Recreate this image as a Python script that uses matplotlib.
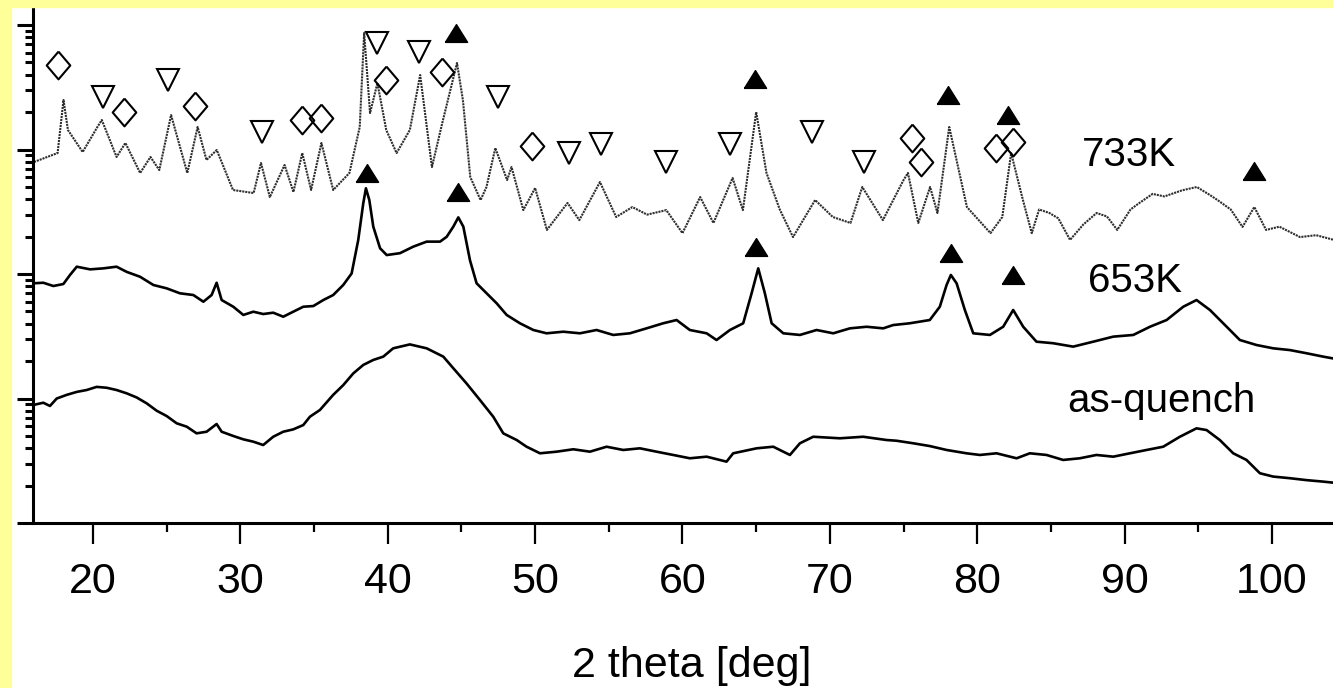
import matplotlib.pyplot as plt
from matplotlib.patches import Rectangle
from matplotlib.ticker import LogLocator, MultipleLocator, NullFormatter

# 2 theta [deg] and intensity (arb. units, log axis)
q_theta = [15.95, 16.63, 17.08, 17.54, 18.22, 18.9, 19.57, 20.25, 20.93, 21.6,
           22.29, 22.96, 23.64, 24.32, 25.0, 25.68, 26.36, 27.03, 27.71, 28.39,
           28.73, 29.52, 30.2, 30.88, 31.55, 32.23, 32.91, 33.59, 34.27, 34.72,
           35.4, 36.3, 36.98, 37.66, 38.34, 39.02, 39.7, 40.37, 41.5, 42.64,
           43.77, 44.45, 45.35, 46.26, 47.16, 47.84, 48.75, 49.42, 50.33, 51.46,
           52.59, 53.72, 54.85, 55.98, 57.11, 58.24, 59.37, 60.5, 61.64, 62.99,
           63.44, 65.03, 66.16, 67.29, 67.97, 68.87, 70.68, 72.26, 73.85, 74.52,
           75.65, 76.78, 77.92, 79.27, 80.18, 81.31, 82.67, 83.57, 84.7, 85.83,
           86.96, 88.09, 89.23, 90.36, 91.49, 92.62, 93.75, 94.88, 95.56, 96.46,
           97.37, 98.27, 99.18, 100.08, 101.21, 102.34, 103.47, 104.13]
q_int = [8.87, 9.25, 8.71, 10.0, 10.7, 11.3, 11.7, 12.4, 12.2, 11.7,
         11.0, 10.2, 9.15, 7.98, 7.23, 6.32, 5.94, 5.25, 5.41, 6.24,
         5.41, 5.0, 4.70, 4.50, 4.23, 4.93, 5.41, 5.65, 6.12, 7.14,
         8.09, 10.7, 12.8, 15.9, 18.6, 20.4, 21.7, 25.3, 27.2, 25.3,
         21.7, 17.5, 13.2, 9.72, 7.14, 5.25, 4.64, 4.10, 3.63, 3.74,
         3.91, 3.74, 4.10, 3.86, 3.98, 3.74, 3.52, 3.31, 3.41, 3.11,
         3.63, 3.98, 4.10, 3.52, 4.37, 4.93, 4.79, 4.93, 4.64, 4.58,
         4.37, 4.15, 3.86, 3.63, 3.52, 3.63, 3.31, 3.63, 3.52, 3.21,
         3.31, 3.52, 3.41, 3.63, 3.86, 4.10, 4.93, 5.76, 5.58, 4.64,
         3.63, 3.21, 2.51, 2.36, 2.29, 2.21, 2.15, 2.11]

k653_theta = [15.95, 16.63, 17.31, 17.99, 18.44, 18.9, 19.8, 20.7, 21.6, 22.29,
              23.19, 24.1, 25.0, 25.9, 26.81, 27.49, 28.05, 28.39, 28.73, 29.52,
              30.2, 30.88, 31.55, 32.23, 32.91, 33.59, 34.27, 34.95, 35.63, 36.3,
              36.98, 37.55, 38.0, 38.34, 38.52, 38.75, 39.02, 39.48, 39.93, 40.83,
              41.74, 42.64, 43.55, 44.0, 44.45, 44.79, 45.13, 45.58, 46.03, 46.71,
              47.39, 48.07, 48.97, 49.88, 50.78, 51.91, 53.04, 54.17, 55.3, 56.43,
              57.56, 58.69, 59.6, 60.5, 61.64, 62.31, 63.22, 64.12, 64.69, 65.14,
              65.59, 66.05, 66.84, 67.97, 69.1, 70.23, 71.36, 72.49, 73.62, 74.29,
              75.42, 76.78, 77.46, 77.92, 78.21, 78.6, 79.16, 79.73, 80.86, 81.76,
              82.44, 83.12, 84.02, 85.15, 86.51, 87.87, 89.23, 90.59, 91.72, 92.85,
              93.98, 94.88, 95.79, 96.69, 97.82, 98.95, 100.08, 101.21, 102.34, 103.47,
              104.13]
k653_int = [84.2, 85.1, 80.1, 83.1, 98.2, 114.5, 109, 111, 114.5, 104,
            95.1, 81.6, 76.7, 70.0, 67.8, 59.9, 67.8, 85.1, 61.8, 54.6,
            46.9, 49.8, 47.7, 48.9, 45.4, 49.8, 54.6, 55.3, 61.8, 67.8,
            81.6, 101, 188, 370, 488, 393, 240, 161, 142, 147,
            166, 182, 182, 199, 240, 285, 240, 129, 84.2, 70.0,
            58.2, 46.9, 40.2, 35.5, 33.4, 34.4, 33.4, 35.5, 32.4, 33.4,
            36.6, 40.2, 42.7, 35.5, 33.4, 29.5, 35.5, 40.2, 70.0, 111,
            70.0, 40.2, 33.4, 32.4, 35.5, 33.4, 36.6, 37.7, 36.6, 38.9,
            40.2, 42.7, 54.6, 81.6, 98.2, 84.2, 51.4, 33.4, 32.4, 37.7,
            51.4, 37.7, 28.6, 27.8, 26.1, 28.6, 31.4, 32.4, 37.7, 42.7,
            54.6, 61.8, 51.4, 40.2, 29.5, 26.9, 25.3, 24.5, 23.1, 21.7,
            21.0]

k733_theta = [16.0, 17.6, 18.0, 18.3, 19.3, 20.3, 20.6, 21.6, 22.2, 23.2, 23.9, 24.5,
              25.3, 26.4, 27.1, 27.7, 28.4, 29.5, 30.9, 31.4, 32.0, 33.0, 33.6, 34.2,
              34.8, 35.5, 36.3, 37.4, 38.1, 38.4, 38.8, 39.3, 39.9, 40.6, 41.5, 42.2,
              43.0, 43.7, 44.2, 44.7, 45.1, 45.6, 46.3, 46.7, 47.3, 48.1, 48.4, 49.2,
              50.0, 50.8, 52.2, 53.0, 54.4, 55.5, 56.6, 57.6, 58.9, 60.0, 61.2, 62.1,
              63.4, 64.1, 65.0, 65.7, 66.6, 67.5, 69.0, 70.2, 71.4, 72.2, 73.6, 75.0,
              75.3, 76.0, 76.8, 77.3, 78.1, 79.3, 80.9, 81.7, 82.3, 83.1, 83.7, 84.2,
              84.9, 85.5, 86.3, 87.2, 88.1, 88.8, 89.5, 90.4, 91.0, 91.9, 92.7, 93.9,
              94.9, 95.8, 96.3, 97.2, 98.0, 98.8, 99.6, 100.5, 101.9, 103.0, 104.2]
k733_int = [794, 937, 2500, 1435, 955, 1517, 1726, 871, 1128, 648, 871, 684,
            1892, 648, 1517, 824, 991, 473, 447, 779, 415, 751, 456, 937,
            473, 1128, 473, 648, 1517, 8630, 1963, 3420, 1435, 937, 1435, 3966,
            723, 1633, 2843, 4955, 2500, 601, 393, 500, 1028, 569, 723, 326,
            491, 226, 372, 271, 548, 287, 345, 300, 326, 213, 415, 257,
            590, 326, 2000, 648, 330, 198, 393, 287, 257, 500, 271, 569,
            648, 257, 500, 309, 1517, 345, 213, 287, 937, 393, 213, 330,
            309, 280, 188, 250, 309, 290, 226, 330, 372, 440, 420, 470,
            500, 430, 393, 330, 239, 345, 226, 240, 198, 205, 188]

# phase markers
diamond_theta = [17.6, 22.1, 26.9, 34.2, 35.5, 39.9, 43.7, 49.8, 75.6, 76.2, 81.3, 82.4]
diamond_int = [4775, 2000, 2235, 1726, 1791, 3616, 4191, 1067, 1237, 794, 1028, 1149]
down_theta = [20.7, 25.1, 31.5, 39.3, 42.1, 47.5, 52.3, 54.5, 58.9, 63.2, 68.8, 72.3]
down_int = [2641, 3616, 1383, 7168, 6067, 2641, 937, 1107, 794, 1107, 1383, 794]
up_theta = [44.6, 64.9, 78.0, 82.1, 98.8, 38.6, 44.8, 65.0, 78.2, 82.4]
up_int = [8630, 3683, 2741, 1892, 672, 648, 456, 165, 147.5, 98.2]

curve_labels = ["733K", "653K", "as-quench"]
label_theta = [90.3, 90.7, 92.5]
label_int = [737, 71.7, 7.8]

plt.rcParams['font.family'] = ['Liberation Sans', 'DejaVu Sans']

fig = plt.figure(figsize=(13.33, 6.88), dpi=100)
fig.patches.append(Rectangle((0, 0), 11 / 1333, 1, transform=fig.transFigure,
                             color='#ffff99', zorder=0))
fig.patches.append(Rectangle((0, 1 - 7 / 688), 1, 7 / 688, transform=fig.transFigure,
                             color='#ffff99', zorder=0))

ax = fig.add_axes([33 / 1333, 165 / 688, 1300 / 1333, 515 / 688])
ax.set_facecolor('none')

ax.plot(q_theta, q_int, color='k', lw=1.9)
ax.plot(k653_theta, k653_int, color='k', lw=1.9)
ax.plot(k733_theta, k733_int, color='#2e2e2e', lw=1.5, linestyle=(0, (1.0, 0.45)))

diamond = [(0, 1), (0.85, 0), (0, -1), (-0.85, 0), (0, 1)]
up_tri = [(-1, -0.8), (1, -0.8), (0, 0.8), (-1, -0.8)]
ax.plot(diamond_theta, diamond_int, ls='none', marker=diamond, ms=20,
        mfc='none', mec='k', mew=1.5)
ax.plot(down_theta, down_int, ls='none', marker='v', ms=16.5,
        mfc='none', mec='k', mew=1.5)
ax.plot(up_theta, up_int, ls='none', marker=up_tri, ms=16,
        mfc='k', mec='k', mew=1)

for text, tx, ty in zip(curve_labels, label_theta, label_int):
    ax.text(tx, ty, text, fontsize=29, ha='center', va='baseline')

ax.set_yscale('log')
ax.set_xlim(15.93, 104.14)
ax.set_ylim(1, 13700)

ax.xaxis.set_major_locator(MultipleLocator(10))
ax.xaxis.set_minor_locator(MultipleLocator(5))
ax.yaxis.set_major_locator(LogLocator(base=10))
ax.yaxis.set_minor_locator(LogLocator(base=10, subs=range(2, 10)))
ax.yaxis.set_major_formatter(NullFormatter())
ax.yaxis.set_minor_formatter(NullFormatter())

for side in ['top', 'right']:
    ax.spines[side].set_visible(False)
for side in ['left', 'bottom']:
    ax.spines[side].set_linewidth(2.2)

ax.tick_params(axis='x', which='major', length=15, width=1.6, labelsize=31, pad=13)
ax.tick_params(axis='x', which='minor', length=6.5, width=1.6)
ax.tick_params(axis='y', which='major', length=11.5, width=2.2)
ax.tick_params(axis='y', which='minor', length=5.8, width=2.2)

ax.set_xlabel("2 theta [deg]", fontsize=31)
ax.xaxis.set_label_coords(0.507, -0.3, transform=ax.transAxes)
ax.xaxis.label.set_va('baseline')

fig.savefig('out.png', dpi=100)
